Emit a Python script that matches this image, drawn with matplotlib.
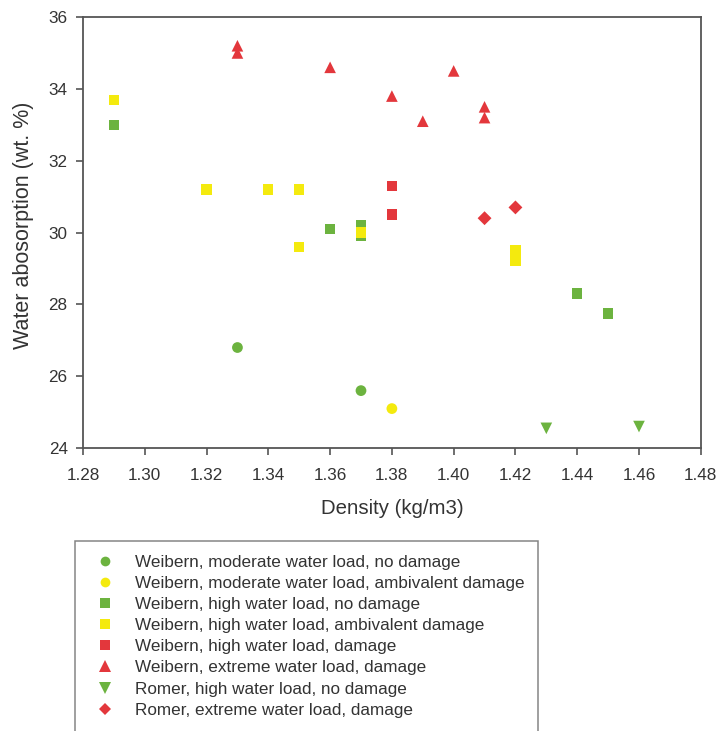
import matplotlib
matplotlib.use("Agg")
import matplotlib.pyplot as plt
from matplotlib.lines import Line2D

plt.rcParams['font.family'] = ['Liberation Sans', 'DejaVu Sans']

GREEN = '#6cb33f'
YELLOW = '#f4ea0e'
RED = '#e3373c'
TXT = '#333333'

# Data (density kg/m3, water absorption wt.%)
w_mod_nodmg_x = [1.33, 1.37]
w_mod_nodmg_y = [26.8, 25.6]
w_mod_amb_x = [1.38]
w_mod_amb_y = [25.1]
w_high_nodmg_x = [1.29, 1.36, 1.37, 1.37, 1.44, 1.45]
w_high_nodmg_y = [33.0, 30.1, 30.2, 29.9, 28.3, 27.75]
w_high_amb_x = [1.29, 1.32, 1.34, 1.35, 1.35, 1.37, 1.42, 1.42]
w_high_amb_y = [33.7, 31.2, 31.2, 31.2, 29.6, 30.0, 29.5, 29.2]
w_high_dmg_x = [1.38, 1.38]
w_high_dmg_y = [31.3, 30.5]
w_ext_dmg_x = [1.33, 1.33, 1.36, 1.38, 1.39, 1.40, 1.41, 1.41]
w_ext_dmg_y = [35.2, 35.0, 34.6, 33.8, 33.1, 34.5, 33.5, 33.2]
r_high_nodmg_x = [1.43, 1.46]
r_high_nodmg_y = [24.55, 24.6]
r_ext_dmg_x = [1.41, 1.42]
r_ext_dmg_y = [30.4, 30.7]

labels = [
    "Weibern, moderate water load, no damage",
    "Weibern, moderate water load, ambivalent damage",
    "Weibern, high water load, no damage",
    "Weibern, high water load, ambivalent damage",
    "Weibern, high water load, damage",
    "Weibern, extreme water load, damage",
    "Romer, high water load, no damage",
    "Romer, extreme water load, damage",
]

series = [
    (w_mod_nodmg_x, w_mod_nodmg_y, 'o', GREEN, 60),
    (w_mod_amb_x, w_mod_amb_y, 'o', YELLOW, 60),
    (w_high_nodmg_x, w_high_nodmg_y, 's', GREEN, 55),
    (w_high_amb_x, w_high_amb_y, 's', YELLOW, 55),
    (w_high_dmg_x, w_high_dmg_y, 's', RED, 55),
    (w_ext_dmg_x, w_ext_dmg_y, '^', RED, 70),
    (r_high_nodmg_x, r_high_nodmg_y, 'v', GREEN, 70),
    (r_ext_dmg_x, r_ext_dmg_y, 'D', RED, 50),
]

x_ticks = [1.28, 1.30, 1.32, 1.34, 1.36, 1.38, 1.40, 1.42, 1.44, 1.46, 1.48]
y_ticks = [24, 26, 28, 30, 32, 34, 36]

fig = plt.figure(figsize=(7.18, 7.31), dpi=100)
ax = fig.add_axes([0.1156, 0.387, 0.8604, 0.5897])

handles = []
for (xs, ys, m, c, s), lab in zip(series, labels):
    ax.scatter(xs, ys, marker=m, s=s, c=c, edgecolors='none', zorder=3)
    handles.append(Line2D([], [], linestyle='none', marker=m, color=c,
                          markersize=7 if m in 'os' else 8 if m != 'D' else 6.5,
                          markeredgewidth=0, label=lab))

ax.set_xlim(1.28, 1.48)
ax.set_ylim(24, 36)
ax.set_xticks(x_ticks)
ax.set_xticklabels([f"{v:.2f}" for v in x_ticks])
ax.set_yticks(y_ticks)
ax.set_yticklabels([str(v) for v in y_ticks])

for sp in ax.spines.values():
    sp.set_color('#555555')
    sp.set_linewidth(1.3)
ax.tick_params(direction='out', length=5, width=1.2, colors='#555555',
               labelcolor=TXT, labelsize=12.3)
ax.tick_params(axis='x', pad=9)
ax.tick_params(axis='y', pad=6)

ax.set_xlabel("Density (kg/m3)", fontsize=14.7, color=TXT, labelpad=12)
ax.set_ylabel("Water abosorption (wt. %)", fontsize=15.5, color=TXT)
ax.yaxis.set_label_coords(-0.079, 0.517)

# blank extra row so the legend frame continues below the figure edge
handles.append(Line2D([], [], linestyle='none', label=' '))
leg = fig.legend(handles=handles, loc='upper left',
                 bbox_to_anchor=(75 / 718, 1 - 541 / 731),
                 fontsize=12.3, frameon=True, fancybox=False,
                 edgecolor='#666666', borderpad=0.8, labelspacing=0.36,
                 handletextpad=0.75, handlelength=1.95, borderaxespad=0)
leg.get_frame().set_linewidth(1.1)
for t in leg.get_texts():
    t.set_color(TXT)

fig.savefig("out.png", dpi=100)
